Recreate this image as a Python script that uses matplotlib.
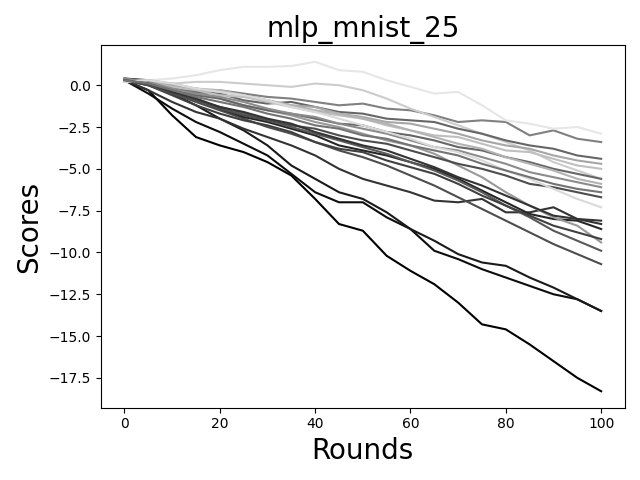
import matplotlib
matplotlib.use("Agg")
import matplotlib.pyplot as plt

rounds = list(range(0, 101, 5))

s_a = [0.3, -0.3, -1.8, -3.1, -3.6, -4.0, -4.6, -5.4, -6.8, -8.3, -8.7, -10.2, -11.1, -11.9, -13.0, -14.3, -14.6, -15.5, -16.5, -17.5, -18.3]
s_b = [0.3, -0.5, -1.4, -2.2, -2.8, -3.5, -4.2, -5.3, -6.4, -7.0, -7.0, -7.9, -8.6, -9.9, -10.4, -11.0, -11.5, -12.0, -12.5, -12.8, -13.5]
s_c = [0.3, 0.2, -0.5, -1.2, -2.0, -2.7, -3.6, -4.8, -5.6, -6.4, -6.8, -7.6, -8.6, -9.3, -10.1, -10.6, -10.8, -11.5, -12.1, -12.8, -13.5]
s_d = [0.3, -0.3, -1.0, -1.6, -2.0, -2.6, -3.1, -3.6, -4.2, -5.0, -5.6, -6.0, -6.4, -6.9, -7.0, -6.8, -7.6, -7.6, -7.3, -8.0, -8.1]
s_e = [0.3, 0.0, -0.5, -1.0, -1.5, -2.0, -2.5, -2.9, -3.4, -3.9, -4.3, -4.8, -5.4, -6.0, -6.7, -7.4, -8.1, -8.8, -9.5, -10.1, -10.7]
s_f = [0.4, 0.3, -0.2, -0.8, -1.4, -1.9, -2.2, -2.6, -3.0, -3.6, -3.9, -4.2, -4.6, -5.0, -5.6, -6.3, -7.0, -7.7, -8.0, -8.1, -8.6]
s_g = [0.3, 0.1, -0.4, -0.9, -1.3, -1.7, -2.1, -2.5, -2.9, -3.3, -3.7, -4.1, -4.6, -5.1, -5.7, -6.4, -7.2, -7.9, -8.7, -9.3, -9.9]
s_h = [0.3, 0.2, -0.1, -0.4, -0.8, -1.2, -1.5, -1.8, -2.2, -2.5, -2.9, -3.3, -3.6, -4.1, -4.8, -5.5, -6.4, -7.2, -7.9, -8.4, -9.4]
s_i = [0.3, 0.0, -0.6, -1.2, -1.7, -2.1, -2.4, -2.8, -3.4, -3.8, -4.0, -4.5, -4.9, -5.3, -5.9, -6.6, -7.2, -7.8, -8.4, -8.8, -9.2]
s_j = [0.3, 0.2, -0.1, -0.3, -0.3, -0.5, -0.7, -0.8, -1.0, -1.2, -1.1, -1.4, -1.5, -1.8, -2.2, -2.1, -2.2, -3.0, -2.7, -3.2, -3.4]
s_k = [0.2, 0.3, 0.4, 0.6, 0.9, 1.1, 1.1, 1.15, 1.4, 0.9, 0.8, 0.3, -0.1, -0.5, -0.4, -1.2, -2.1, -2.3, -2.6, -2.5, -2.9]
s_l = [0.3, 0.2, 0.1, 0.2, 0.2, 0.1, 0.0, -0.1, 0.1, 0.0, -0.3, -0.8, -1.4, -1.9, -2.4, -2.9, -3.4, -3.9, -4.6, -5.1, -5.6]
s_m = [0.4, 0.2, -0.2, -0.4, -0.5, -0.9, -1.1, -1.0, -1.3, -1.6, -1.7, -2.0, -2.1, -2.2, -2.6, -2.9, -3.3, -3.6, -3.8, -4.2, -4.4]
s_n = [0.3, 0.3, 0.0, -0.2, -0.4, -0.6, -0.9, -1.2, -1.3, -1.7, -1.9, -2.2, -2.3, -2.6, -2.9, -3.3, -3.6, -3.8, -4.2, -4.5, -4.7]
s_o = [0.2, 0.2, -0.1, -0.3, -0.6, -0.7, -1.0, -1.3, -1.6, -1.8, -2.0, -2.4, -2.7, -3.0, -3.1, -3.5, -3.9, -4.0, -4.4, -4.8, -5.0]
s_p = [0.3, 0.1, -0.3, -0.6, -0.8, -1.2, -1.5, -1.7, -2.0, -2.3, -2.4, -2.8, -3.0, -3.3, -3.7, -3.9, -4.3, -4.6, -5.0, -5.3, -5.6]
s_q = [0.3, 0.3, 0.1, -0.2, -0.3, -0.6, -0.9, -1.2, -1.5, -1.7, -2.0, -2.3, -2.7, -3.1, -3.5, -3.8, -4.3, -4.7, -5.1, -5.6, -5.9]
s_r = [0.4, 0.2, -0.2, -0.5, -0.7, -1.0, -1.4, -1.7, -1.9, -2.3, -2.6, -2.9, -3.3, -3.7, -3.9, -4.3, -4.7, -5.2, -5.5, -5.8, -6.1]
s_s = [0.3, 0.0, -0.5, -0.9, -1.4, -1.8, -2.1, -2.4, -2.6, -3.0, -3.3, -3.5, -3.9, -4.3, -4.7, -5.0, -5.4, -5.9, -6.1, -6.4, -6.7]
s_t = [0.2, 0.3, 0.1, -0.2, -0.4, -0.6, -0.9, -1.3, -1.6, -2.0, -2.4, -2.8, -3.2, -3.7, -4.0, -4.5, -5.1, -5.6, -6.2, -6.8, -7.3]
s_u = [0.3, 0.1, -0.4, -0.8, -1.3, -1.6, -2.0, -2.3, -2.8, -3.2, -3.6, -3.9, -4.4, -4.9, -5.5, -6.0, -6.6, -7.2, -7.8, -8.0, -8.3]
s_v = [0.3, 0.1, -0.3, -0.7, -1.0, -1.3, -1.7, -2.0, -2.4, -2.6, -3.0, -3.2, -3.6, -3.9, -4.2, -4.7, -5.1, -5.5, -5.9, -6.2, -6.4]

series = [s_a, s_b, s_c, s_d, s_e, s_f, s_g, s_h, s_i, s_j, s_k,
          s_l, s_m, s_n, s_o, s_p, s_q, s_r, s_s, s_t, s_u, s_v]
grays = ["0.0", "0.05", "0.1", "0.2", "0.3", "0.15", "0.35", "0.6", "0.25", "0.5", "0.9",
         "0.8", "0.4", "0.65", "0.75", "0.4", "0.7", "0.55", "0.3", "0.85", "0.2", "0.45"]

fig, ax = plt.subplots(figsize=(6.4, 4.8), dpi=100)
for ys, g in zip(series, grays):
    ax.plot(rounds, ys, color=g, linewidth=1.5)

ax.set_title("mlp_mnist_25", fontsize=20)
ax.set_xlabel("Rounds", fontsize=20)
ax.set_ylabel("Scores", fontsize=20)
fig.tight_layout()
fig.savefig("out.png")
